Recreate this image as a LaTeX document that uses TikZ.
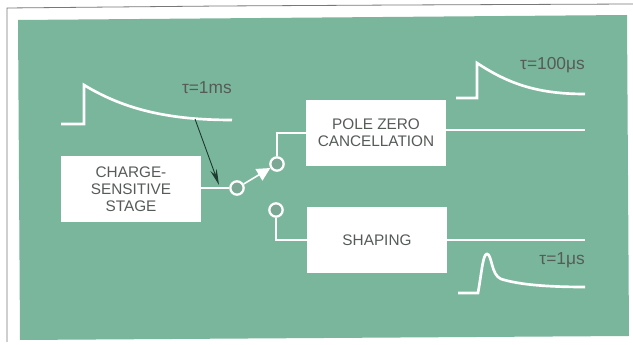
\documentclass[tikz,border=0pt]{standalone}
\usepackage{fontspec}
\setmainfont{Liberation Sans}
\usepackage{xcolor}
\usetikzlibrary{arrows.meta}
\definecolor{panelgreen}{RGB}{122,182,155}
\definecolor{labelgrey}{RGB}{85,92,88}
\tikzset{
  blockbox/.style={fill=white,minimum width=105pt,minimum height=49pt,inner sep=0pt,align=center,font=\fontsize{11.5}{12.6}\selectfont,text=labelgrey},
  contact/.style={circle,draw=white,line width=1.7pt,fill=panelgreen!75!gray,minimum size=10pt,inner sep=0pt},
  wire/.style={color=white,line width=0.8pt},
  pulse/.style={color=white,line width=2pt},
  taulabel/.style={anchor=east,inner sep=0.75pt,font=\fontsize{13}{14}\selectfont,text=labelgrey}
}

\begin{document}
\begin{tikzpicture}[x=0.75pt,y=0.75pt,yscale=-1,xscale=1]
\useasboundingbox (0,0) rectangle (633,345);

%Shape: Frame
\draw [color={rgb, 255:red, 120; green, 120; blue, 120 },line width=0.6] (7,342) -- (7,8) -- (220,6) -- (400,5) -- (633,4);
%Shape: Panel
\fill [panelgreen] (18,20) -- (627,15) -- (629,336) -- (20,340) -- cycle;

% Block Nodes
\node (charge) [blockbox] at (131,189) {CHARGE-\\SENSITIVE\\STAGE};
\node (pole) [blockbox] at (376,133) {POLE ZERO\\CANCELLATION};
\node (shaping) [blockbox] at (377,240) {SHAPING};

% Switch Nodes
\node (swin) [contact] at (237,188) {};
\node (swup) [contact] at (277,164) {};
\node (swlow) [contact] at (276,210) {};
\coordinate (poleout) at (585,130);
\coordinate (shapeout) at (585,240);

%Straight Lines
\draw [wire] (charge.east |- swin) -- (swin);
\draw [wire] (swup) |- (pole.west);
\draw [wire] (swlow) |- (shaping.west);
\draw [wire] (pole.east |- poleout) -- (poleout);
\draw [wire] (shaping) ++(70,0) -- (shapeout);
\draw [wire,line width=1.2,-{Triangle[length=10pt,width=10pt,fill=white]}] (swin) -- (swup);

%Curves
\draw [pulse] (61,124) -- (84,124) -- (84,85) .. controls (125,110) and (170,120) .. (232,120);
\draw [pulse] (456,98) -- (477,98) -- (477,63) .. controls (510,85) and (540,94) .. (585,94);
\draw [pulse] (458,293) -- (478,293) .. controls (482,270) and (483,254) .. (487,254) .. controls (492,254) and (491,275) .. (501,279) .. controls (520,285) and (550,287) .. (585,287);

%Pointer
\coordinate (ptrfrom) at (195,119);
\coordinate (ptrto) at (219,185);
\draw [color={rgb, 255:red, 30; green, 60; blue, 50 },line width=0.7,-{Stealth[length=12pt,width=5pt]}] (ptrfrom) -- (ptrto);

% Text Node
\node (taua) [taulabel] at (233,88) {τ=1ms};
% Text Node
\node (taub) [taulabel] at (586,65) {τ=100μs};
% Text Node
\node (tauc) [taulabel] at (586,260) {τ=1μs};

\end{tikzpicture}
\end{document}
